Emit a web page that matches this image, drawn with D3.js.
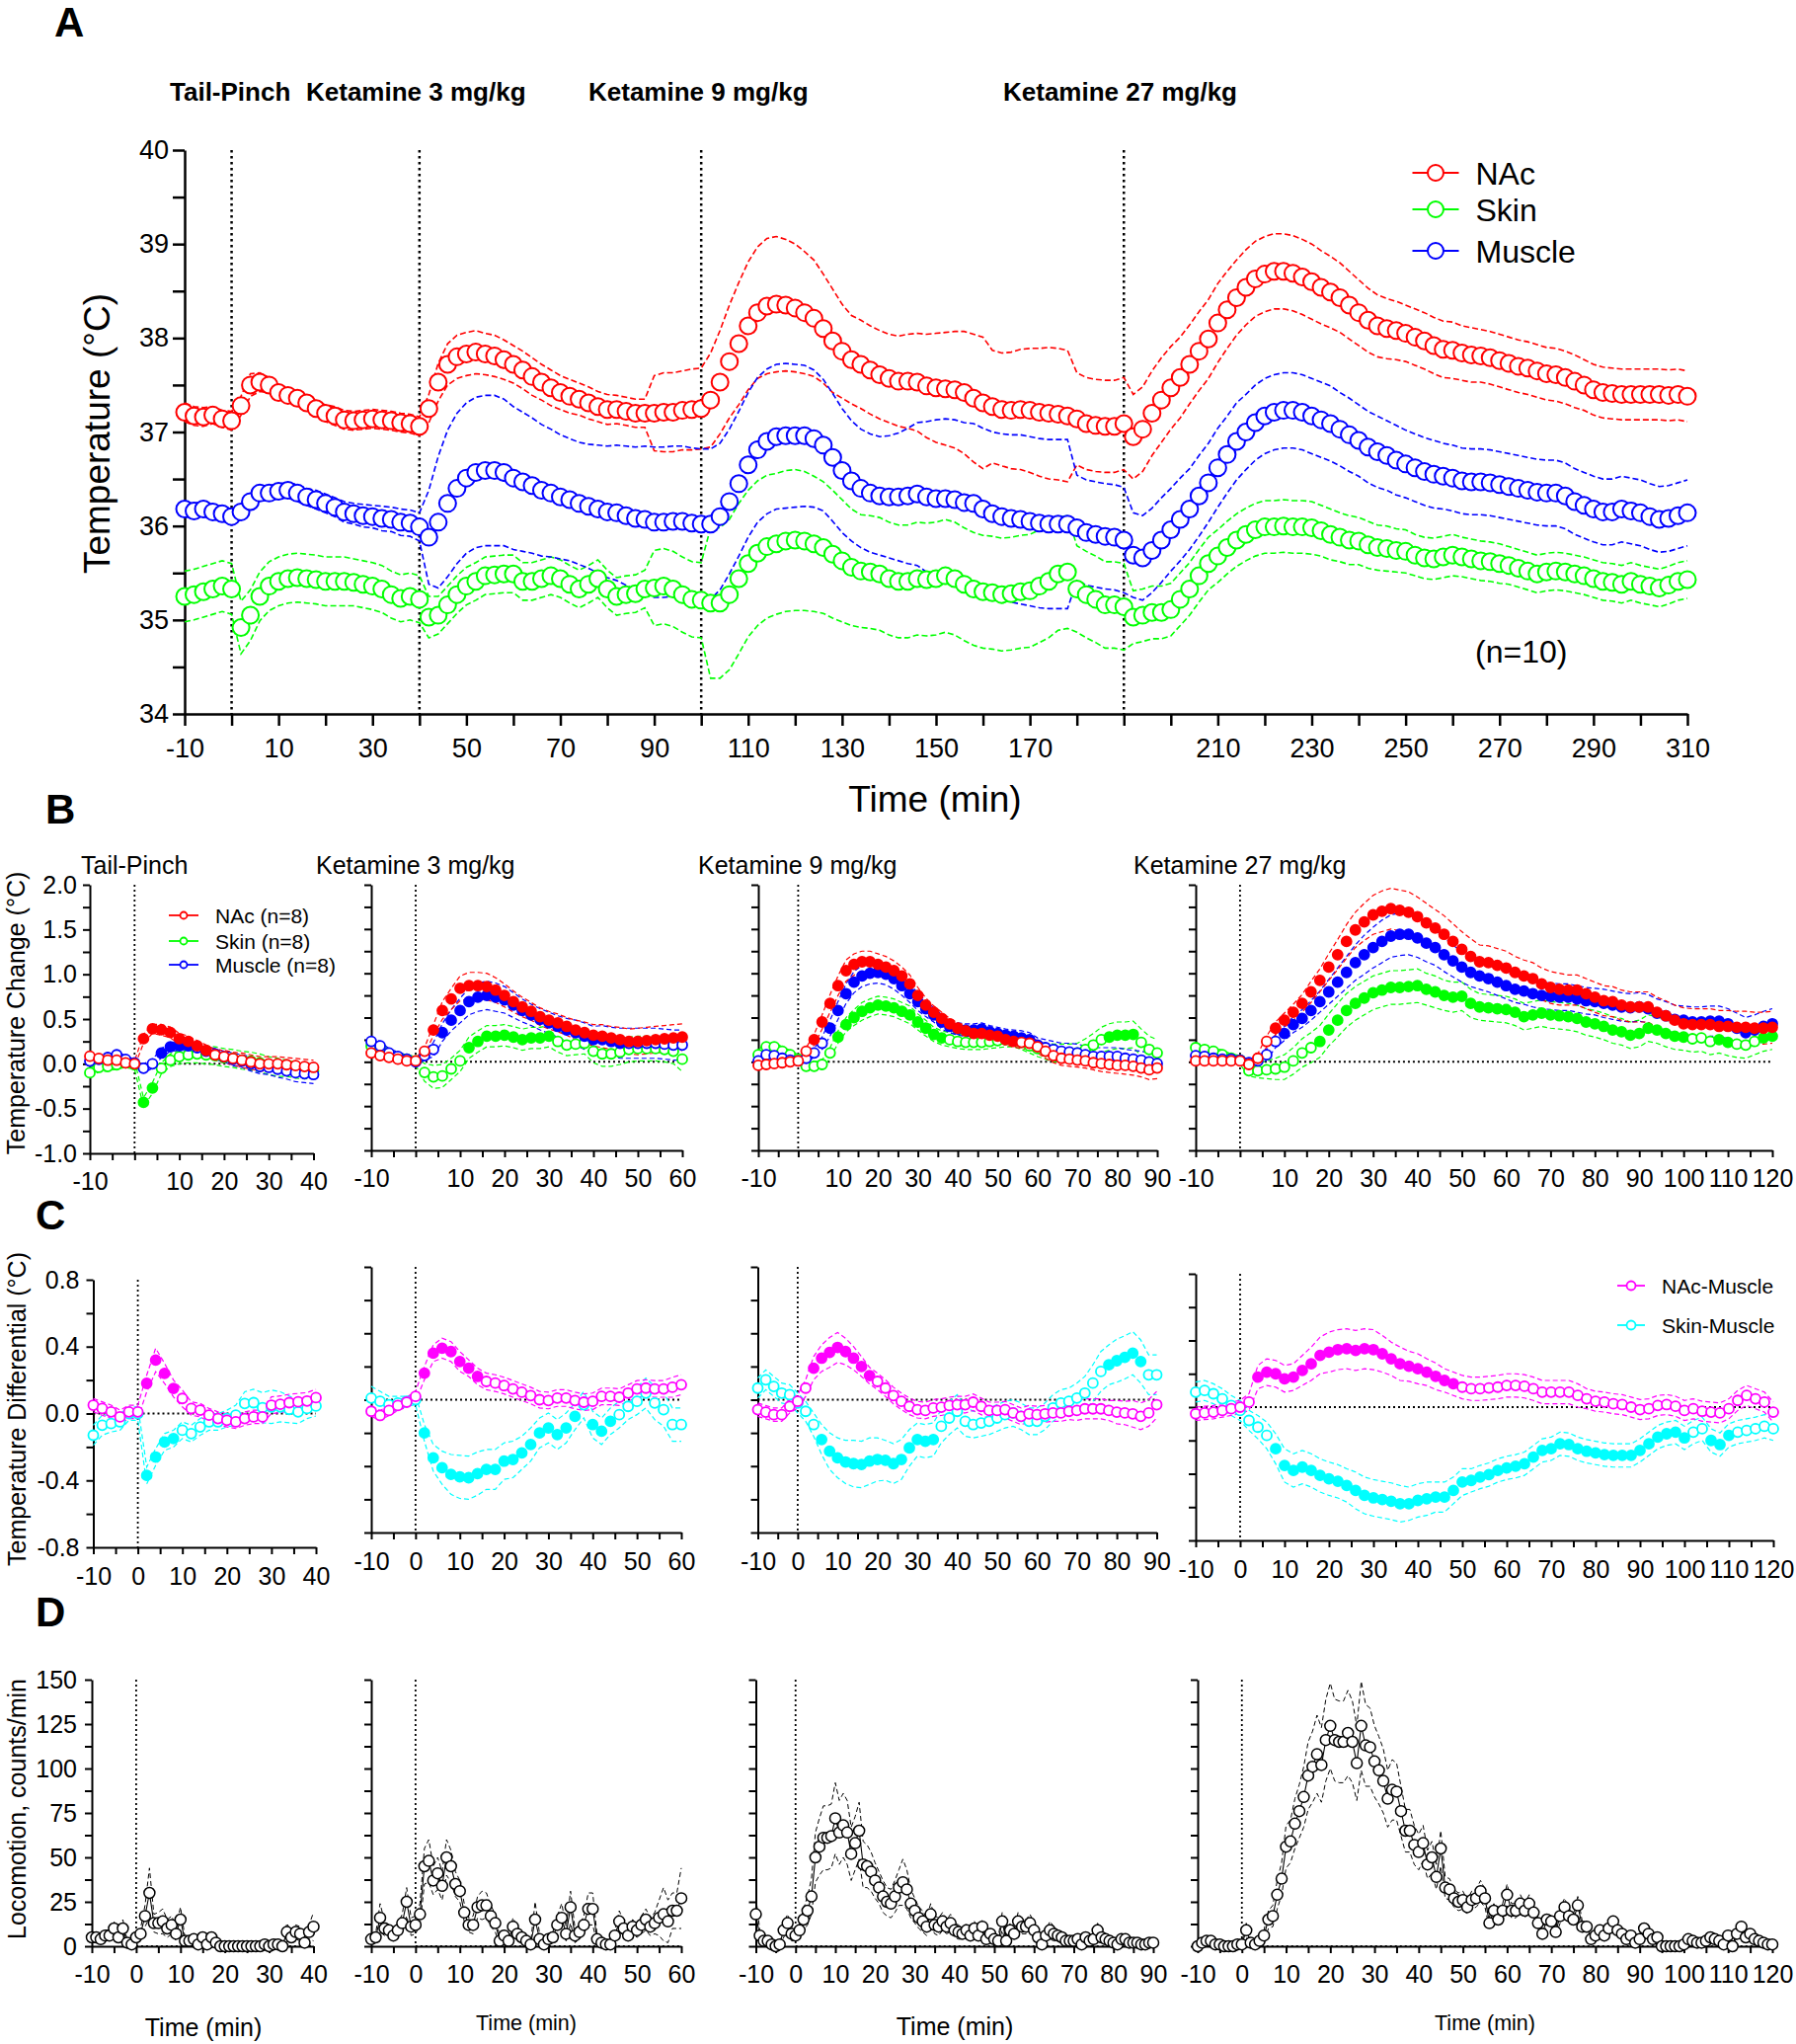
<!DOCTYPE html>
<html>
<head>
<meta charset="utf-8">
<script src="https://cdnjs.cloudflare.com/ajax/libs/d3/7.8.5/d3.min.js"></script>
<style>
body { margin: 0; background: #fff; }
svg text { font-family: "Liberation Sans", Arial, sans-serif; fill: #000; }
</style>
</head>
<body>
<svg id="fig" width="1819" height="2070"></svg>
<script>
// ---------- colours ----------
var RED = "#ff0000", GREEN = "#00ff00", BLUE = "#0000ff", MAG = "#ff00ff", CYAN = "#00ffff";

// ---------- panel A : absolute temperature, every 2 min from -10 to 310 ----------
var aNAc = [37.21,37.17,37.16,37.18,37.14,37.12,
 37.28,37.50,37.53,37.50,37.42,37.39,37.36,37.31,37.25,37.20,37.17,37.13,37.12,37.13,37.14,37.13,37.12,37.10,37.09,37.06,
 37.25,37.53,37.72,37.80,37.83,37.85,37.83,37.81,37.77,37.72,37.66,37.59,37.53,37.47,37.42,37.38,37.35,37.31,37.27,37.24,37.24,37.22,37.20,37.20,37.20,37.21,37.21,37.23,37.24,37.25,
 37.34,37.53,37.75,37.94,38.13,38.27,38.34,38.36,38.35,38.32,38.27,38.21,38.10,37.97,37.86,37.77,37.72,37.66,37.61,37.57,37.54,37.54,37.53,37.49,37.47,37.46,37.45,37.42,37.36,37.31,37.27,37.24,37.23,37.24,37.23,37.21,37.20,37.19,37.17,37.14,37.09,37.07,37.06,37.06,37.09,
 36.95,37.03,37.20,37.34,37.47,37.58,37.72,37.86,37.99,38.16,38.30,38.43,38.54,38.63,38.68,38.71,38.71,38.69,38.65,38.60,38.54,38.49,38.43,38.35,38.27,38.19,38.13,38.10,38.08,38.05,38.01,37.97,37.92,37.88,37.87,37.84,37.82,37.81,37.79,37.76,37.73,37.70,37.68,37.65,37.62,37.61,37.58,37.54,37.50,37.45,37.42,37.41,37.40,37.40,37.40,37.40,37.40,37.39,37.40,37.38];
var aNAcSem = [.1,.1,.1,.09,.09,.1,
 .1,.12,.1,.08,.07,.07,.07,.08,.08,.09,.1,.1,.1,.1,.1,.1,.1,.1,.1,.1,
 .15,.2,.22,.23,.23,.23,.22,.22,.21,.2,.2,.2,.19,.19,.18,.18,.17,.17,.16,.16,.15,.15,.15,.15,
 .4,.42,.42,.42,.43,.43,
 .5,.55,.6,.65,.68,.7,.72,.72,.7,.68,.65,.62,.58,.55,.5,
 .47,.47,.47,.47,.47,.48,.5,.52,.55,.58,.6,.62,.65,.68,.7,.6,.6,.62,.64,.66,.68,.7,.7,.7,
 .49,.49,.49,.49,.49,.49,
 .45,.45,.45,.45,.44,.43,.42,.42,.42,.42,.41,.4,.4,.4,.4,.4,.4,.4,.4,.4,.39,.38,.37,.36,.35,.34,.33,.32,.31,.3,.3,.3,.3,.3,.3,.29,.29,.28,.28,.28,.28,.28,.28,.28,.28,.28,.28,.28,.27,.27,.27,.27,.27,.27,.27,.27,.27,.27,.27,.27];
var aMuscle = [36.18,36.16,36.18,36.15,36.13,36.10,
 36.15,36.26,36.35,36.35,36.37,36.38,36.35,36.31,36.28,36.24,36.20,36.15,36.13,36.11,36.10,36.08,36.07,36.04,36.03,35.99,
 35.88,36.04,36.24,36.40,36.51,36.57,36.59,36.59,36.57,36.51,36.47,36.43,36.38,36.35,36.31,36.28,36.24,36.21,36.18,36.15,36.14,36.11,36.08,36.07,36.04,36.04,36.05,36.05,36.03,36.02,
 36.02,36.10,36.26,36.45,36.65,36.81,36.90,36.95,36.96,36.96,36.96,36.93,36.86,36.73,36.59,36.48,36.40,36.35,36.32,36.31,36.31,36.32,36.34,36.31,36.29,36.29,36.28,36.25,36.24,36.18,36.13,36.10,36.08,36.07,36.05,36.03,36.02,36.02,36.02,35.98,35.93,35.91,35.89,35.88,35.85,
 35.69,35.66,35.74,35.85,35.96,36.07,36.18,36.32,36.46,36.62,36.76,36.90,37.00,37.10,37.17,37.21,37.23,37.23,37.21,37.17,37.13,37.09,37.03,36.97,36.91,36.84,36.79,36.75,36.70,36.66,36.62,36.58,36.55,36.53,36.51,36.48,36.47,36.47,36.46,36.44,36.42,36.40,36.38,36.36,36.35,36.35,36.32,36.26,36.22,36.18,36.15,36.15,36.18,36.16,36.14,36.10,36.07,36.08,36.11,36.14];
var aMuscleSem = [.08,.08,.08,.08,.08,.08,
 .08,.08,.08,.08,.08,.08,.09,.09,.1,.1,.1,.11,.11,.12,.12,.13,.13,.14,.14,.15,
 .5,.7,.78,.8,.8,.8,.8,.8,.78,.76,.74,.72,.7,.68,.66,.65,.65,.66,.68,.7,.72,.74,.76,.78,.8,.8,.8,.8,.8,.8,
 .8,.78,.77,.77,.77,.77,.77,.77,.77,.76,.75,.73,.7,.68,.66,.64,.63,.63,.63,.65,.68,.72,.76,.8,.84,.85,.85,.85,.85,.86,.87,.88,.89,.9,.9,.9,.9,.9,.9,
 .56,.56,.56,.56,.56,.56,
 .45,.45,.45,.45,.44,.44,.43,.43,.42,.42,.41,.41,.4,.4,.4,.4,.4,.4,.4,.4,.4,.4,.39,.39,.38,.38,.38,.37,.37,.36,.36,.36,.36,.35,.35,.35,.35,.35,.35,.35,.35,.35,.35,.35,.35,.35,.35,.35,.35,.35,.35,.35,.35,.35,.35,.35,.35,.35,.35,.35];
var aSkin = [35.25,35.27,35.30,35.33,35.36,35.33,
 34.92,35.05,35.25,35.36,35.41,35.44,35.45,35.44,35.43,35.41,35.41,35.41,35.40,35.38,35.36,35.33,35.27,35.23,35.25,35.22,
 35.03,35.05,35.16,35.27,35.36,35.41,35.47,35.48,35.49,35.49,35.41,35.41,35.44,35.47,35.44,35.38,35.33,35.38,35.44,35.33,35.25,35.27,35.28,35.33,35.34,35.36,35.33,35.27,35.22,35.21,
 35.18,35.18,35.27,35.44,35.60,35.71,35.78,35.81,35.84,35.85,35.84,35.81,35.77,35.70,35.63,35.56,35.52,35.51,35.49,35.44,35.41,35.41,35.44,35.43,35.44,35.47,35.44,35.38,35.33,35.30,35.29,35.27,35.28,35.30,35.31,35.36,35.41,35.49,35.51,35.33,35.27,35.22,35.16,35.16,35.14,
 35.03,35.05,35.08,35.08,35.11,35.22,35.33,35.47,35.60,35.68,35.77,35.85,35.91,35.96,35.99,35.99,36.00,35.99,35.99,35.98,35.95,35.91,35.88,35.85,35.84,35.80,35.77,35.76,35.74,35.73,35.69,35.66,35.65,35.67,35.69,35.67,35.65,35.63,35.62,35.60,35.58,35.55,35.52,35.49,35.51,35.52,35.51,35.49,35.47,35.44,35.41,35.40,35.38,35.41,35.38,35.36,35.34,35.37,35.41,35.43];
var aSkinSem = [.27,.27,.27,.27,.27,.27,
 .28,.27,.26,.26,.26,.26,.26,.26,.26,.26,.26,.26,.25,.25,.25,.25,.25,.25,.25,.25,
 .22,.2,.2,.2,.2,.2,.2,.2,.2,.2,.2,.2,.2,.2,.2,.2,.2,.2,.2,.2,.2,.2,.2,.2,
 .4,.4,.4,.4,.4,.4,
 .8,.8,.8,.8,.78,.77,.76,.75,.75,.75,.74,.72,.7,.68,.65,.62,.6,.6,.6,.6,.6,.6,.6,.6,.6,.6,.6,.6,.6,.6,.6,.6,.6,.6,.6,.6,.6,.6,.6,
 .46,.46,.46,.46,.46,.46,
 .28,.28,.28,.28,.28,.28,.28,.28,.28,.28,.28,.28,.28,.28,.28,.28,.28,.28,.28,.28,.27,.27,.26,.26,.25,.25,.24,.24,.23,.23,.22,.22,.22,.22,.22,.21,.21,.21,.21,.21,.2,.2,.2,.2,.2,.2,.2,.2,.2,.2,.2,.2,.2,.2,.2,.2,.2,.2,.2,.2];
var aInjections = [0, 40, 100, 190];
var aTitles = ["Tail-Pinch", "Ketamine 3 mg/kg", "Ketamine 9 mg/kg", "Ketamine 27 mg/kg"];
var aLegend = ["NAc", "Skin", "Muscle"];

// ---------- panel B : temperature change, every 2 min ----------
var b1NAc = [.085,.06,.04,.04,.01,0,.28,.39,.38,.35,.28,.25,.2,.15,.1,.08,.06,.04,.02,0,0,0,-.01,-.02,-.03,-.04];
var b1NAcSem = [.03,.03,.03,.03,.03,.03,.05,.05,.06,.06,.06,.06,.06,.06,.06,.07,.07,.08,.08,.08,.08,.08,.08,.08,.08,.08];
var b1Muscle = [.03,.05,.07,.1,.05,.01,-.05,.0,.12,.19,.2,.2,.18,.14,.11,.08,.05,.03,0,-.03,-.04,-.06,-.08,-.1,-.11,-.12];
var b1MuscleSem = [.04,.04,.04,.04,.04,.04,.05,.05,.05,.05,.05,.05,.05,.05,.06,.06,.07,.07,.08,.08,.08,.09,.09,.1,.1,.1];
var b1Skin = [-.1,-.04,-.03,-.01,.01,-.01,-.43,-.27,-.05,.04,.08,.1,.11,.1,.09,.07,.06,.04,.03,.01,-.02,-.04,-.05,-.07,-.09,-.08];
var b1SkinSem = [.05,.05,.05,.05,.05,.05,.05,.06,.06,.07,.08,.09,.1,.1,.1,.1,.1,.1,.1,.1,.1,.1,.09,.09,.08,.08];

var b2NAc = [.1,.07,.05,.03,.01,.01,.12,.36,.58,.71,.83,.86,.86,.85,.81,.75,.68,.62,.57,.51,.47,.44,.4,.36,.33,.3,.29,.27,.25,.23,.23,.24,.25,.26,.27,.28];
var b2NAcSem = [.03,.03,.03,.03,.03,.03,.04,.06,.1,.12,.14,.15,.15,.15,.14,.13,.12,.11,.1,.1,.1,.1,.1,.11,.12,.12,.13,.13,.14,.14,.15,.15,.15,.15,.15,.15];
var b2Muscle = [.23,.18,.1,.06,.03,0,.07,.14,.33,.47,.58,.68,.73,.75,.73,.7,.64,.58,.53,.48,.44,.4,.36,.33,.29,.25,.25,.23,.21,.21,.21,.21,.21,.2,.19,.19];
var b2MuscleSem = [.05,.05,.05,.05,.05,.05,.05,.08,.1,.12,.14,.15,.16,.16,.16,.15,.14,.13,.12,.12,.12,.12,.13,.14,.15,.15,.16,.16,.17,.17,.17,.17,.17,.17,.17,.17];
var b2Skin = [.18,.16,.09,.05,.03,.01,-.12,-.17,-.16,-.08,.01,.16,.23,.29,.29,.3,.28,.25,.27,.27,.29,.23,.19,.2,.21,.12,.09,.09,.11,.14,.15,.15,.15,.14,.12,.03];
var b2SkinSem = [.05,.05,.05,.05,.05,.05,.1,.13,.13,.12,.12,.12,.12,.12,.12,.12,.12,.12,.12,.12,.12,.12,.12,.12,.12,.13,.14,.14,.14,.14,.14,.14,.14,.14,.14,.14];

var b3NAc = [-.04,-.03,-.02,-.01,0,.01,.12,.25,.45,.66,.86,1.03,1.1,1.13,1.13,1.1,1.07,1.03,.97,.88,.75,.64,.56,.49,.43,.38,.35,.32,.32,.3,.29,.25,.23,.22,.21,.17,.12,.07,.04,.03,.02,.01,-.01,-.02,-.03,-.04,-.04,-.05,-.07,-.09,-.07];
var b3NAcSem = [.03,.03,.03,.03,.03,.03,.04,.06,.08,.1,.11,.12,.12,.12,.12,.12,.12,.11,.1,.1,.09,.08,.07,.07,.06,.06,.06,.06,.06,.06,.06,.06,.06,.07,.07,.07,.08,.08,.08,.08,.08,.08,.08,.09,.09,.09,.1,.1,.1,.11,.12];
var b3Muscle = [.01,.08,.07,.04,.02,.01,.04,.1,.21,.38,.58,.77,.9,.97,1.0,1.01,.99,.94,.86,.77,.68,.6,.53,.45,.4,.37,.36,.36,.37,.34,.32,.3,.29,.27,.25,.19,.16,.14,.12,.11,.1,.08,.06,.06,.06,.06,.04,.03,.02,0,-.02];
var b3MuscleSem = [.04,.04,.04,.04,.04,.04,.04,.05,.07,.09,.1,.11,.12,.12,.12,.12,.12,.12,.11,.1,.1,.09,.08,.08,.07,.07,.07,.07,.07,.07,.07,.07,.07,.08,.08,.08,.09,.09,.09,.1,.1,.1,.1,.1,.1,.1,.1,.1,.1,.1,.1];
var b3Skin = [.08,.17,.17,.12,.08,.03,-.05,-.05,-.03,.1,.28,.42,.5,.57,.61,.64,.63,.61,.57,.53,.45,.38,.31,.27,.25,.23,.22,.22,.22,.23,.24,.25,.25,.22,.18,.15,.12,.1,.1,.1,.1,.14,.19,.25,.28,.3,.3,.31,.22,.14,.1];
var b3SkinSem = [.05,.05,.05,.05,.05,.05,.05,.05,.05,.06,.07,.08,.09,.1,.1,.1,.1,.1,.1,.1,.09,.09,.08,.08,.08,.08,.08,.08,.08,.08,.08,.08,.08,.08,.08,.09,.09,.1,.1,.1,.11,.12,.13,.14,.15,.15,.15,.15,.15,.15,.15];

var b4NAc = [.01,.01,.01,.01,.01,.01,-.03,.04,.23,.38,.47,.56,.66,.79,.92,1.07,1.21,1.36,1.49,1.58,1.66,1.7,1.73,1.71,1.69,1.64,1.57,1.51,1.44,1.36,1.27,1.19,1.13,1.12,1.09,1.06,1.01,.97,.94,.88,.84,.82,.81,.81,.77,.73,.69,.68,.64,.62,.62,.62,.56,.52,.47,.43,.42,.42,.42,.4,.4,.39,.39,.38,.38,.39];
var b4NAcSem = [.03,.03,.03,.03,.03,.03,.04,.05,.06,.07,.08,.09,.1,.12,.13,.15,.17,.19,.2,.21,.22,.23,.23,.23,.23,.22,.22,.21,.21,.2,.2,.2,.19,.19,.19,.19,.18,.18,.18,.18,.18,.18,.17,.17,.17,.17,.17,.17,.17,.17,.17,.17,.17,.17,.17,.18,.18,.18,.18,.18,.18,.18,.18,.18,.18,.18];
var b4Muscle = [.07,.06,.04,.03,.03,.02,-.01,.01,.08,.23,.32,.42,.49,.58,.68,.79,.9,1.01,1.12,1.21,1.29,1.36,1.42,1.44,1.44,1.4,1.34,1.29,1.21,1.14,1.07,1.01,.97,.94,.9,.86,.82,.8,.77,.75,.74,.73,.73,.71,.69,.68,.66,.64,.62,.61,.62,.6,.55,.52,.48,.47,.45,.45,.46,.46,.43,.38,.33,.36,.4,.43];
var b4MuscleSem = [.04,.04,.04,.04,.04,.04,.04,.05,.06,.07,.08,.09,.1,.11,.12,.14,.16,.18,.2,.22,.23,.24,.24,.24,.23,.22,.21,.2,.19,.18,.17,.16,.15,.15,.15,.15,.15,.15,.15,.15,.15,.15,.15,.15,.15,.15,.16,.16,.16,.16,.16,.16,.16,.16,.16,.16,.17,.17,.17,.17,.17,.17,.17,.17,.17,.17];
var b4Skin = [.16,.14,.12,.08,.04,.02,-.1,-.1,-.09,-.08,-.06,.01,.1,.16,.23,.36,.47,.58,.66,.72,.78,.81,.84,.84,.85,.86,.82,.79,.75,.73,.74,.66,.62,.61,.6,.59,.56,.51,.53,.55,.53,.52,.51,.49,.45,.43,.4,.36,.34,.3,.32,.38,.36,.32,.29,.28,.26,.27,.23,.25,.22,.2,.19,.23,.27,.29];
var b4SkinSem = [.05,.05,.05,.05,.05,.05,.06,.08,.1,.12,.14,.15,.16,.17,.18,.18,.19,.19,.19,.19,.19,.19,.19,.19,.19,.19,.18,.18,.17,.17,.16,.16,.15,.15,.15,.15,.15,.15,.15,.15,.15,.15,.15,.15,.15,.15,.15,.15,.15,.15,.15,.15,.15,.15,.15,.15,.15,.15,.15,.15,.15,.15,.15,.15,.15,.15];

// time ranges (min) where the circles are filled (significant)
var b1Sig = { nac: [[2,16]], skin: [[2,4]], muscle: [[6,12]] };
var b2Sig = { nac: [[4,60]], skin: [[12,30]], muscle: [[6,46]] };
var b3Sig = { nac: [[4,54]], skin: [[10,36],[78,84]], muscle: [[8,60]] };
var b4Sig = { nac: [[8,120]], skin: [[18,100],[108,110],[118,120]], muscle: [[10,120]] };
var bLegend = ["NAc (n=8)", "Skin (n=8)", "Muscle (n=8)"];

// ---------- panel C : temperature differentials, every 2 min ----------
var c1NM = [.05,.03,.01,-.02,.01,.01,.18,.32,.24,.15,.09,.03,.02,-.01,-.03,-.04,-.05,-.03,-.02,-.02,.05,.055,.065,.07,.075,.095];
var c1NMSem = [.04,.04,.04,.04,.04,.04,.05,.07,.06,.05,.05,.04,.04,.04,.04,.04,.04,.04,.04,.04,.05,.05,.05,.05,.05,.05];
var c1SM = [-.13,-.07,-.06,-.05,0,0,-.37,-.26,-.17,-.15,-.1,-.12,-.08,-.05,-.05,-.03,-.01,.06,.065,.035,.04,.04,.025,.01,.03,.045];
var c1SMSem = [.06,.06,.05,.05,.04,.04,.05,.05,.05,.05,.05,.05,.05,.05,.05,.05,.06,.07,.08,.09,.1,.09,.08,.07,.06,.06];

var c2NM = [-.07,-.095,-.065,-.035,-.015,.02,.16,.28,.31,.29,.23,.19,.14,.11,.1,.085,.065,.045,.025,0,-.005,.01,.01,-.005,-.015,-.01,.02,.02,.015,.04,.065,.07,.065,.065,.075,.09];
var c2NMSem = [.03,.03,.03,.03,.03,.03,.04,.05,.06,.06,.06,.05,.05,.05,.05,.05,.05,.05,.05,.05,.05,.05,.05,.05,.05,.05,.05,.05,.05,.05,.05,.05,.05,.05,.06,.06];
var c2SM = [.01,-.01,-.03,-.02,-.01,0,-.2,-.35,-.41,-.45,-.465,-.47,-.445,-.42,-.42,-.37,-.36,-.32,-.27,-.2,-.17,-.21,-.17,-.1,-.03,-.15,-.19,-.13,-.09,-.04,-.01,.04,-.02,-.06,-.15,-.15];
var c2SMSem = [.07,.06,.05,.04,.03,.03,.05,.08,.1,.12,.13,.13,.13,.12,.12,.11,.11,.1,.1,.09,.09,.09,.09,.08,.08,.08,.08,.08,.08,.08,.08,.09,.1,.1,.1,.1];

var c3NM = [-.06,-.075,-.09,-.09,-.04,-.01,.07,.19,.25,.285,.315,.29,.25,.2,.145,.11,.07,.025,-.01,-.04,-.06,-.065,-.05,-.045,-.035,-.03,-.03,-.015,-.04,-.065,-.065,-.06,-.08,-.1,-.085,-.09,-.085,-.08,-.08,-.07,-.065,-.055,-.055,-.055,-.065,-.075,-.08,-.085,-.1,-.08,-.03];
var c3NMSem = [.04,.04,.04,.04,.04,.04,.05,.07,.08,.09,.09,.08,.07,.06,.05,.05,.05,.05,.05,.05,.05,.05,.05,.05,.05,.05,.05,.05,.05,.05,.05,.05,.05,.05,.05,.05,.05,.05,.05,.05,.06,.06,.06,.06,.06,.07,.07,.08,.08,.08,.08];
var c3SM = [.07,.12,.08,.04,.03,-.02,-.07,-.15,-.24,-.31,-.35,-.375,-.385,-.39,-.37,-.36,-.365,-.385,-.36,-.29,-.24,-.25,-.24,-.16,-.11,-.07,-.13,-.15,-.14,-.13,-.11,-.09,-.08,-.1,-.13,-.13,-.1,-.05,-.02,-.01,.01,.04,.1,.17,.21,.235,.255,.28,.23,.15,.15];
var c3SMSem = [.06,.06,.06,.06,.06,.06,.06,.07,.09,.11,.12,.13,.14,.14,.14,.13,.12,.12,.12,.11,.1,.1,.1,.1,.1,.1,.09,.08,.08,.08,.08,.08,.08,.08,.08,.08,.08,.08,.08,.08,.09,.1,.11,.12,.12,.13,.13,.13,.13,.12,.12];

var c4NM = [-.04,-.035,-.03,-.02,-.01,0,.03,.18,.21,.2,.17,.18,.22,.26,.31,.33,.345,.35,.34,.35,.345,.32,.29,.26,.245,.23,.21,.185,.16,.14,.12,.11,.11,.115,.12,.13,.13,.125,.11,.09,.09,.09,.09,.07,.05,.035,.03,.02,.015,0,-.015,-.01,.01,.015,.005,-.02,-.01,-.025,-.03,-.035,-.01,.04,.07,.05,.03,-.03];
var c4NMSem = [.04,.04,.04,.04,.04,.04,.05,.07,.08,.08,.08,.08,.09,.1,.11,.12,.12,.12,.12,.12,.12,.11,.1,.1,.09,.09,.08,.08,.07,.07,.07,.07,.07,.07,.07,.07,.07,.07,.07,.07,.07,.07,.07,.07,.06,.06,.06,.06,.06,.06,.06,.06,.06,.06,.06,.06,.06,.06,.06,.06,.06,.06,.06,.06,.06,.06];
var c4SM = [.09,.1,.08,.05,.01,-.02,-.08,-.12,-.17,-.25,-.35,-.38,-.36,-.38,-.41,-.43,-.445,-.47,-.5,-.53,-.545,-.555,-.565,-.58,-.58,-.56,-.55,-.54,-.54,-.5,-.45,-.44,-.42,-.405,-.38,-.365,-.355,-.34,-.3,-.26,-.25,-.22,-.225,-.25,-.265,-.275,-.285,-.29,-.29,-.29,-.26,-.22,-.18,-.16,-.15,-.185,-.15,-.13,-.2,-.225,-.17,-.15,-.14,-.13,-.115,-.13];
var c4SMSem = [.06,.06,.06,.06,.06,.06,.06,.07,.08,.09,.1,.1,.1,.1,.1,.1,.1,.1,.11,.11,.11,.11,.11,.11,.1,.1,.1,.09,.09,.08,.08,.07,.07,.07,.07,.07,.07,.07,.07,.07,.07,.07,.07,.07,.07,.07,.07,.07,.07,.07,.07,.07,.07,.07,.07,.07,.07,.07,.07,.07,.07,.07,.07,.07,.07,.07];

var c1Sig = { nm: [[2,8]], sm: [[2,8]] };
var c2Sig = { nm: [[2,14]], sm: [[2,36],[40,44]] };
var c3Sig = { nm: [[4,18]], sm: [[6,34],[78,86]] };
var c4Sig = { nm: [[4,48]], sm: [[8,100],[106,110]] };
var cLegend = ["NAc-Muscle", "Skin-Muscle"];

// ---------- panel D : locomotion, every minute ----------
var d1Loco = [5,5,4,6,6,10,5,10,2,1,5, 7,17,30,13,13,14,10,12,7,15, 3,3,4,1,5,1,5,2,0,0, 0,0,0,0,0,0,0,0,1,0, 1,1,0,8,5,8,7,2,8,11];
var d1Sem = [3,3,2,3,3,4,3,5,1,1,2, 3,6,14,5,6,7,5,5,4,7, 2,2,2,1,3,1,3,1,0,0, 0,0,0,0,0,0,0,0,1,0, 1,1,0,5,3,4,4,2,4,8];
var d2Loco = [4,5,16,10,9,6,9,13,25,11,12, 18,45,48,37,41,34,50,45,35,31, 19,12,12,22,23,23,17,13,3,6, 3,11,7,5,3,1,15,4,1,4, 5,12,16,7,22,6,8,12,21,21, 4,2,1,1,6,14,10,6,11,9, 12,15,11,13,16,18,14,20,20,27];
var d2Sem = [2,2,8,4,3,3,4,5,8,5,5, 6,10,12,8,9,8,10,9,7,6, 5,4,5,6,8,7,6,5,2,3, 2,5,4,3,2,1,10,3,1,2, 3,5,8,4,9,4,4,5,9,9, 2,1,1,1,3,6,4,3,4,4, 5,6,5,6,10,15,12,10,10,17];
var d3Loco = [18,6,3,3,1,0,1,9,13,7,6, 9,15,20,28,50,56,61,61,62,72, 64,68,64,52,58,65,46,45,42,37, 33,28,25,24,28,33,36,32,24,20, 16,14,11,18,12,11,14,11,13,9, 8,7,9,6,10,6,11,4,7,4, 3,14,3,9,7,14,11,11,13,9, 5,1,6,9,7,6,5,3,3,3, 4,1,5,3,4,9,5,4,3,2, 1,4,4,2,2,2,1,1,2,2];
var d3Sem = [10,3,2,2,1,0,1,4,5,4,3, 4,6,8,10,14,16,18,18,18,20, 18,18,18,15,15,16,13,12,11,10, 9,9,8,8,9,10,13,11,8,7, 6,6,5,6,5,5,5,4,5,4, 4,3,4,3,4,3,4,2,3,2, 2,5,2,4,3,5,4,4,5,4, 3,1,3,5,4,3,3,2,2,2, 2,1,2,2,2,4,3,2,2,1, 1,2,2,1,1,1,1,1,1,1];
var d4Loco = [0,2,3,3,1,1,0,0,0,1,1, 9,2,1,3,6,15,17,29,38,56, 59,69,76,84,96,101,108,102,116,124, 116,115,115,120,115,103,124,113,112,104, 99,93,83,88,87,76,65,65,57,53, 58,46,50,39,55,33,32,27,25,26, 22,26,27,31,27,13,20,15,20,29, 20,20,24,20,24,19,13,7,15,14, 8,17,22,17,15,23,11,11,4,6, 9,6,10,14,9,7,4,6,2,4, 10,7,4,5,0,0,0,0,0,1, 4,3,2,2,3,5,4,3,1,6, 0,7,11,5,7,4,3,2,1,1];
var d4Sem = [0,1,2,2,1,1,0,0,0,1,1, 4,1,1,2,3,5,6,8,9,12, 12,14,15,17,19,20,22,21,23,24, 23,23,23,24,23,21,25,23,22,20, 19,18,16,17,16,14,12,12,11,10, 10,8,9,7,10,6,6,5,5,5, 4,5,5,6,5,3,4,3,4,6, 4,4,5,4,5,4,3,2,3,3, 2,4,5,4,3,5,3,3,1,2, 2,2,3,3,2,2,1,2,1,1, 3,2,1,1,0,0,0,0,0,0, 1,1,1,1,1,2,1,1,0,2, 0,2,3,2,2,1,1,1,0,0];

// ---------- helpers ----------
var svg = d3.select("#fig");

function series(start, step, m, s) {
  return m.map(function(v, i) { return { t: start + i * step, m: v, s: s[i] || 0 }; });
}
function inSig(t, sig) {
  return (sig || []).some(function(r) { return t >= r[0] && t <= r[1]; });
}
function fmt1(v) { return (Math.abs(v) < 1e-9 ? 0 : v).toFixed(1); }

function txt(x, y, s, size, opt) {
  opt = opt || {};
  var t = svg.append("text").attr("x", x).attr("y", y).text(s)
    .style("font-size", size + "px")
    .attr("text-anchor", opt.anchor || "start");
  if (opt.bold) t.style("font-weight", "bold");
  if (opt.rotate) t.attr("transform", "rotate(-90," + x + "," + y + ")").attr("dy", "0.35em");
  return t;
}

function makeAxes(o) {
  var x = d3.scaleLinear().domain(o.xDom).range([o.x0, o.x1]);
  var y = d3.scaleLinear().domain(o.yDom).range([o.yBot, o.yTop]);
  var g = svg.append("g");
  var xa = d3.axisBottom(x).tickValues(o.xTicks).tickFormat(o.xFmt)
    .tickSize(o.tick).tickSizeOuter(0).tickPadding(o.xPad);
  var ya = d3.axisLeft(y).tickValues(o.yTicks).tickFormat(o.yFmt)
    .tickSize(o.tick).tickSizeOuter(0).tickPadding(o.yPad);
  var gx = g.append("g").attr("transform", "translate(0," + o.yBot + ")").call(xa);
  var gy = g.append("g").attr("transform", "translate(" + o.x0 + ",0)").call(ya);
  [gx, gy].forEach(function(a) {
    a.selectAll("path, line").attr("stroke", "#000").attr("stroke-width", o.lw);
    a.selectAll("text").attr("fill", "#000")
      .style("font-size", o.font + "px")
      .style("font-family", "'Liberation Sans', Arial, sans-serif");
  });
  return { x: x, y: y, g: g, lines: g.append("g"), marks: g.append("g") };
}

function vDotted(p, t, w, dash) {
  p.lines.append("line")
    .attr("x1", p.x(t)).attr("x2", p.x(t))
    .attr("y1", p.y.range()[1]).attr("y2", p.y.range()[0])
    .attr("stroke", "#000").attr("stroke-width", w).attr("stroke-dasharray", dash);
}
function hDotted(p, t0, t1, v, w, dash) {
  p.lines.append("line")
    .attr("x1", p.x(t0)).attr("x2", p.x(t1))
    .attr("y1", p.y(v)).attr("y2", p.y(v))
    .attr("stroke", "#000").attr("stroke-width", w).attr("stroke-dasharray", dash);
}
function bands(p, data, color, w, dash) {
  var up = d3.line().x(function(d) { return p.x(d.t); }).y(function(d) { return p.y(d.m + d.s); });
  var lo = d3.line().x(function(d) { return p.x(d.t); }).y(function(d) { return p.y(d.m - d.s); });
  [up, lo].forEach(function(ln) {
    p.lines.append("path").attr("d", ln(data)).attr("fill", "none")
      .attr("stroke", color).attr("stroke-width", w).attr("stroke-dasharray", dash);
  });
}
function dots(p, data, color, r, sw, sig) {
  p.marks.append("g").selectAll("circle").data(data).join("circle")
    .attr("cx", function(d) { return p.x(d.t); })
    .attr("cy", function(d) { return p.y(d.m); })
    .attr("r", r)
    .attr("fill", function(d) { return inSig(d.t, sig) ? color : "#fff"; })
    .attr("stroke", color).attr("stroke-width", sw);
}
function legendRow(x, y, color, r, len, label, size, lw) {
  svg.append("line").attr("x1", x - len / 2).attr("x2", x + len / 2).attr("y1", y).attr("y2", y)
    .attr("stroke", color).attr("stroke-width", lw);
  svg.append("circle").attr("cx", x).attr("cy", y).attr("r", r)
    .attr("fill", "#fff").attr("stroke", color).attr("stroke-width", lw);
  txt(x + len / 2 + 17, y + size * 0.36, label, size);
}

// ---------- panel A ----------
var pA = makeAxes({
  x0: 187, x1: 1709, yTop: 152, yBot: 723, xDom: [-10, 310], yDom: [34, 40],
  xTicks: d3.range(-10, 311, 10),
  xFmt: function(v) { return ((v + 10) % 20 === 0 && v !== 190) ? String(v) : ""; },
  yTicks: d3.range(34, 40.01, 0.5),
  yFmt: function(v) { return Number.isInteger(v) ? String(v) : ""; },
  tick: 12, xPad: 13, yPad: 4, lw: 2.5, font: 27
});
aInjections.forEach(function(t) { vDotted(pA, t, 2.5, "2.5,3.5"); });
var aSeries = [
  [series(-10, 2, aNAc, aNAcSem), RED],
  [series(-10, 2, aSkin, aSkinSem), GREEN],
  [series(-10, 2, aMuscle, aMuscleSem), BLUE]
];
aSeries.forEach(function(s) { bands(pA, s[0], s[1], 1.6, "6,3"); });
aSeries.forEach(function(s) { dots(pA, s[0], s[1], 8.5, 2, []); });

txt(55, 37, "A", 42, { bold: true });
var aTitleX = [172, 310, 596, 1016];
aTitles.forEach(function(s, i) { txt(aTitleX[i], 102, s, 26, { bold: true }); });
txt(98, 439, "Temperature (\u00B0C)", 37, { anchor: "middle", rotate: true });
txt(947, 822, "Time (min)", 37, { anchor: "middle" });
[RED, GREEN, BLUE].forEach(function(c, i) {
  legendRow(1454, [175, 212, 254][i], c, 8, 47, aLegend[i], 32, 2);
});
txt(1494, 671, "(n=10)", 32);

// ---------- panel B ----------
var bDefs = [
  { x0: 91, x1: 317.5, yBot: 1168, xMax: 40, title: "Tail-Pinch", tx: 82,
    nac: [b1NAc, b1NAcSem], skin: [b1Skin, b1SkinSem], muscle: [b1Muscle, b1MuscleSem], sig: b1Sig },
  { x0: 376, x1: 691, yBot: 1165, xMax: 60, title: aTitles[1], tx: 320,
    nac: [b2NAc, b2NAcSem], skin: [b2Skin, b2SkinSem], muscle: [b2Muscle, b2MuscleSem], sig: b2Sig },
  { x0: 768, x1: 1172, yBot: 1165, xMax: 90, title: aTitles[2], tx: 707,
    nac: [b3NAc, b3NAcSem], skin: [b3Skin, b3SkinSem], muscle: [b3Muscle, b3MuscleSem], sig: b3Sig },
  { x0: 1211, x1: 1795, yBot: 1165, xMax: 120, title: aTitles[3], tx: 1148,
    nac: [b4NAc, b4NAcSem], skin: [b4Skin, b4SkinSem], muscle: [b4Muscle, b4MuscleSem], sig: b4Sig }
];
bDefs.forEach(function(d, k) {
  var p = makeAxes({
    x0: d.x0, x1: d.x1, yTop: 896, yBot: d.yBot, xDom: [-10, d.xMax], yDom: [-1, 2],
    xTicks: d3.range(-10, d.xMax + 0.1, 5),
    xFmt: function(v) { return (v % 10 === 0 && v !== 0) ? String(v) : ""; },
    yTicks: d3.range(-1, 2.01, 0.25),
    yFmt: function(v) { return (k === 0 && Math.abs(v * 2 - Math.round(v * 2)) < 1e-9) ? fmt1(v) : ""; },
    tick: 7, xPad: 12, yPad: 6, lw: 2, font: 25
  });
  vDotted(p, 0, 1.8, "2,3");
  hDotted(p, 0, d.xMax, 0, 2, "2,3");
  var sk = series(-10, 2, d.skin[0], d.skin[1]);
  var mu = series(-10, 2, d.muscle[0], d.muscle[1]);
  var na = series(-10, 2, d.nac[0], d.nac[1]);
  bands(p, sk, GREEN, 1.2, "5,3");
  bands(p, mu, BLUE, 1.2, "5,3");
  bands(p, na, RED, 1.2, "5,3");
  dots(p, sk, GREEN, 5, 1.8, d.sig.skin);
  dots(p, mu, BLUE, 5, 1.8, d.sig.muscle);
  dots(p, na, RED, 5, 1.8, d.sig.nac);
  txt(d.tx, 885, d.title, 25);
});
txt(46, 834, "B", 42, { bold: true });
txt(16, 1026, "Temperature Change (\u00B0C)", 25, { anchor: "middle", rotate: true });
[RED, GREEN, BLUE].forEach(function(c, i) {
  legendRow(186, [927, 953, 977][i], c, 3.5, 30, bLegend[i], 21, 1.8);
});

// ---------- panel C ----------
var cDefs = [
  { x0: 94.5, x1: 320, yTop: 1296, yBot: 1567, xMax: 40, nm: [c1NM, c1NMSem], sm: [c1SM, c1SMSem], sig: c1Sig },
  { x0: 376, x1: 690, yTop: 1283, yBot: 1552, xMax: 60, nm: [c2NM, c2NMSem], sm: [c2SM, c2SMSem], sig: c2Sig },
  { x0: 767.5, x1: 1171.5, yTop: 1283, yBot: 1552, xMax: 90, nm: [c3NM, c3NMSem], sm: [c3SM, c3SMSem], sig: c3Sig },
  { x0: 1211, x1: 1796, yTop: 1290, yBot: 1560, xMax: 120, nm: [c4NM, c4NMSem], sm: [c4SM, c4SMSem], sig: c4Sig }
];
cDefs.forEach(function(d, k) {
  var p = makeAxes({
    x0: d.x0, x1: d.x1, yTop: d.yTop, yBot: d.yBot, xDom: [-10, d.xMax], yDom: [-0.8, 0.8],
    xTicks: d3.range(-10, d.xMax + 0.1, 5),
    xFmt: function(v) { return v % 10 === 0 ? String(v) : ""; },
    yTicks: d3.range(-0.8, 0.81, 0.2),
    yFmt: function(v) { return (k === 0 && Math.abs(v / 0.4 - Math.round(v / 0.4)) < 1e-6) ? fmt1(v) : ""; },
    tick: 7, xPad: 13, yPad: 7, lw: 2, font: 25
  });
  vDotted(p, 0, 1.8, "2,3");
  hDotted(p, -10, d.xMax, 0, 2, "2,3");
  var sm = series(-10, 2, d.sm[0], d.sm[1]);
  var nm = series(-10, 2, d.nm[0], d.nm[1]);
  bands(p, sm, CYAN, 1.2, "5,3");
  bands(p, nm, MAG, 1.2, "5,3");
  dots(p, sm, CYAN, 5, 1.8, d.sig.sm);
  dots(p, nm, MAG, 5, 1.8, d.sig.nm);
});
txt(36, 1245, "C", 42, { bold: true });
txt(17, 1427, "Temperature Differential (\u00B0C)", 25, { anchor: "middle", rotate: true });
[MAG, CYAN].forEach(function(c, i) {
  legendRow(1652, [1302, 1342][i], c, 4.5, 28, cLegend[i], 21, 1.8);
});

// ---------- panel D ----------
var dDefs = [
  { x0: 93, x1: 317.5, xMax: 40, loco: d1Loco, sem: d1Sem, tx: 206, ty: 2062, ts: 25 },
  { x0: 376, x1: 690, xMax: 60, loco: d2Loco, sem: d2Sem, tx: 533, ty: 2056, ts: 21.5 },
  { x0: 765.5, x1: 1168, xMax: 90, loco: d3Loco, sem: d3Sem, tx: 967, ty: 2061, ts: 25 },
  { x0: 1213, x1: 1795, xMax: 120, loco: d4Loco, sem: d4Sem, tx: 1504, ty: 2056, ts: 21.5 }
];
dDefs.forEach(function(d, k) {
  var p = makeAxes({
    x0: d.x0, x1: d.x1, yTop: 1701, yBot: 1971, xDom: [-10, d.xMax], yDom: [0, 150],
    xTicks: d3.range(-10, d.xMax + 0.1, 5),
    xFmt: function(v) { return v % 10 === 0 ? String(v) : ""; },
    yTicks: d3.range(0, 150.1, 12.5),
    yFmt: function(v) { return (k === 0 && v % 25 === 0) ? String(v) : ""; },
    tick: 7, xPad: 12, yPad: 8, lw: 2, font: 25
  });
  vDotted(p, 0, 1.8, "2,3");
  hDotted(p, 0, d.xMax, 0, 2, "2,3");
  var s = series(-10, 1, d.loco, d.sem);
  bands(p, s, "#000", 1, "5,3");
  var mean = d3.line().x(function(e) { return p.x(e.t); }).y(function(e) { return p.y(e.m); });
  p.lines.append("path").attr("d", mean(s)).attr("fill", "none").attr("stroke", "#000").attr("stroke-width", 1.1);
  dots(p, s, "#000", 5.5, 1.5, []);
  txt(d.tx, d.ty, "Time (min)", d.ts, { anchor: "middle" });
});
txt(36, 1647, "D", 42, { bold: true });
txt(17, 1832, "Locomotion, counts/min", 25, { anchor: "middle", rotate: true });
</script>
</body>
</html>
